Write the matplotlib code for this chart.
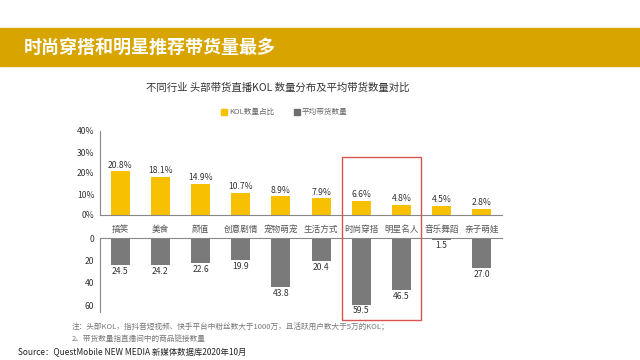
import matplotlib.pyplot as plt
from matplotlib.patches import Rectangle

plt.rcParams['font.family'] = ['Noto Sans CJK SC', 'DejaVu Sans']

# data
categories = ['搞笑', '美食', '颜值', '创意剧情', '宠物萌宠', '生活方式', '时尚穿搭', '明星名人', '音乐舞蹈', '亲子萌娃']
kol_share = [20.8, 18.1, 14.9, 10.7, 8.9, 7.9, 6.6, 4.8, 4.5, 2.8]
avg_goods = [24.5, 24.2, 22.6, 19.9, 43.8, 20.4, 59.5, 46.5, 1.5, 27.0]
upper_ticks = [0, 10, 20, 30, 40]
lower_ticks = [0, 20, 40, 60]

W, H = 640, 360
fig = plt.figure(figsize=(6.4, 3.6), dpi=100)
fig.patch.set_facecolor('white')

def fx(px):
    return px / W

def fy(py):
    return 1 - py / H

# gold banner with headline
fig.patches.append(Rectangle((0, fy(66)), 1, fy(28) - fy(66), transform=fig.transFigure,
                             color='#D8A500', zorder=0))
fig.text(fx(24), fy(47), '时尚穿搭和明星推荐带货量最多', color='white', fontsize=13,
         fontweight='bold', va='center', ha='left')

# chart title + legend
fig.text(fx(278), fy(88), '不同行业 头部带货直播KOL 数量分布及平均带货数量对比', fontsize=7.5,
         color='#333333', ha='center', va='center')
fig.patches.append(Rectangle((fx(221), fy(115)), fx(6), 6 / H, transform=fig.transFigure,
                             color='#F5C100'))
fig.text(fx(229), fy(111.5), 'KOL数量占比', fontsize=5.5, color='#666666', va='center')
fig.patches.append(Rectangle((fx(294), fy(115)), fx(6), 6 / H, transform=fig.transFigure,
                             color='#6E6E6E'))
fig.text(fx(302), fy(111.5), '平均带货数量', fontsize=5.5, color='#666666', va='center')

x = list(range(len(categories)))
left, right = fx(100), fx(502)

# upper panel: KOL share
ax1 = fig.add_axes([left, fy(215), right - left, fy(131) - fy(215)])
ax1.bar(x, kol_share, width=0.47, color='#F7C000', edgecolor='none')
for xi, v in zip(x, kol_share):
    ax1.text(xi, v + 0.8, f'{v}%', ha='center', va='bottom', fontsize=6.2, color='#333333')
ax1.set_xlim(-0.5, 9.5)
ax1.set_ylim(0, 40)
ax1.set_yticks(upper_ticks)
ax1.set_yticklabels([f'{t}%' for t in upper_ticks])
ax1.set_xticks(x)
ax1.set_xticklabels(categories, color='#555555')
for s in ['top', 'right']:
    ax1.spines[s].set_visible(False)
for s in ['left', 'bottom']:
    ax1.spines[s].set_color('#888888')
    ax1.spines[s].set_linewidth(0.8)
ax1.tick_params(length=0, labelsize=6.2, colors='#333333', pad=4)
ax1.tick_params(axis='x', pad=7, labelcolor='#555555')
ax1.patch.set_alpha(0)

# lower panel: average goods count (downward)
ax2 = fig.add_axes([left, fy(312), right - left, fy(238) - fy(312)])
ax2.bar(x, avg_goods, width=0.47, color='#7A7A7A', edgecolor='none')
for xi, v in zip(x, avg_goods):
    ax2.text(xi, v + 1.5, f'{v:.1f}', ha='center', va='top', fontsize=6.2, color='#333333')
ax2.set_xlim(-0.5, 9.5)
ax2.set_ylim(66, 0)
ax2.set_yticks(lower_ticks)
ax2.set_xticks([])
for s in ['bottom', 'right']:
    ax2.spines[s].set_visible(False)
for s in ['left', 'top']:
    ax2.spines[s].set_color('#888888')
    ax2.spines[s].set_linewidth(0.8)
ax2.tick_params(length=0, labelsize=6.2, colors='#333333', pad=4)
ax2.patch.set_alpha(0)

# red highlight box
fig.patches.append(Rectangle((fx(342), fy(320)), fx(421) - fx(342), fy(157) - fy(320),
                             transform=fig.transFigure, fill=False, edgecolor='#D9534F',
                             linewidth=1.0, zorder=5))

# notes and source
fig.text(fx(72), fy(327), '注：头部KOL，指抖音短视频、快手平台中粉丝数大于1000万，且活跃用户数大于5万的KOL；',
         fontsize=5.5, color='#777777', va='center')
fig.text(fx(72), fy(339), '2、带货数量指直播间中的商品链接数量', fontsize=5.5, color='#777777', va='center')
fig.text(fx(18), fy(353), 'Source：QuestMobile NEW MEDIA 新媒体数据库2020年10月', fontsize=6,
         color='#222222', va='center')

fig.savefig('out.png', dpi=100)
